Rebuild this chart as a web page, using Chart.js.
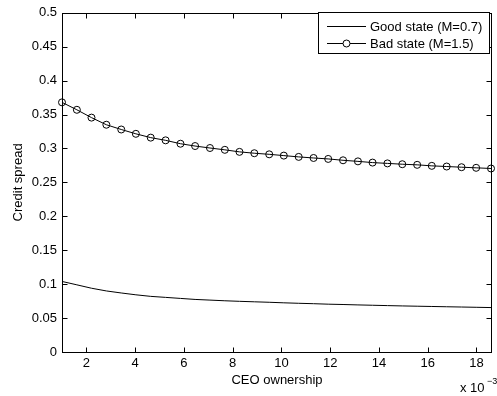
<!DOCTYPE html>
<html>
<head>
<meta charset="utf-8">
<script src="https://cdn.jsdelivr.net/npm/chart.js@4"></script>
<style>
  html, body { margin: 0; padding: 0; background: #fff; }
  #wrap { width: 497px; height: 396px; }
</style>
</head>
<body>
<div id="wrap"><canvas id="chart" width="497" height="396"></canvas></div>
<script>
// CEO ownership, in units of 10^-3
const ownership = [1.00, 1.61, 2.21, 2.82, 3.43, 4.03, 4.64, 5.25, 5.86, 6.46,
  7.07, 7.68, 8.28, 8.89, 9.50, 10.10, 10.71, 11.32, 11.92, 12.53,
  13.14, 13.74, 14.35, 14.96, 15.57, 16.17, 16.78, 17.39, 17.99, 18.60];

const goodState = [0.104, 0.099, 0.094, 0.090, 0.087, 0.0843, 0.082, 0.0805, 0.079, 0.0775,
  0.0765, 0.0755, 0.0747, 0.074, 0.0733, 0.0725, 0.0718, 0.0712, 0.0705, 0.0700,
  0.0694, 0.0689, 0.0684, 0.0679, 0.0675, 0.0671, 0.0667, 0.0663, 0.0659, 0.0655];

const badState = [0.368, 0.357, 0.3455, 0.335, 0.328, 0.3216, 0.316, 0.312, 0.307, 0.3036,
  0.3007, 0.298, 0.295, 0.293, 0.2914, 0.2895, 0.2876, 0.286, 0.2846, 0.2826,
  0.281, 0.2792, 0.278, 0.2768, 0.2759, 0.2744, 0.2734, 0.2724, 0.2715, 0.2705];

const xTicks = [2, 4, 6, 8, 10, 12, 14, 16, 18];
const yTicks = [0, 0.05, 0.1, 0.15, 0.2, 0.25, 0.3, 0.35, 0.4, 0.45, 0.5];

const seriesNames = ['Good state (M=0.7)', 'Bad state (M=1.5)'];
const xTitle = 'CEO ownership';
const yTitle = 'Credit spread';

const FONT = 'Liberation Sans, Arial, Helvetica, sans-serif';
const FS = 13;

const toPoints = ys => ownership.map((x, i) => ({ x: x, y: ys[i] }));

// MATLAB style box with inward ticks, legend and exponent label
const matlabFrame = {
  id: 'matlabFrame',
  afterDraw(chart) {
    const ctx = chart.ctx;
    const a = chart.chartArea;
    const xs = chart.scales.x, ys = chart.scales.y;
    const tl = 5;
    const L = Math.round(a.left) + 0.5, R = Math.round(a.right) - 0.5;
    const T = Math.round(a.top) + 0.5, B = Math.round(a.bottom) + 0.5;
    ctx.save();
    ctx.strokeStyle = '#000';
    ctx.lineWidth = 1;
    ctx.beginPath();
    xTicks.forEach(v => {
      const px = Math.round(xs.getPixelForValue(v)) + 0.5;
      ctx.moveTo(px, B); ctx.lineTo(px, B - tl);
      ctx.moveTo(px, T); ctx.lineTo(px, T + tl);
    });
    yTicks.forEach(v => {
      const py = Math.round(ys.getPixelForValue(v)) + 0.5;
      ctx.moveTo(L, py); ctx.lineTo(L + tl, py);
      ctx.moveTo(R, py); ctx.lineTo(R - tl, py);
    });
    ctx.stroke();
    ctx.strokeRect(L, T, R - L, B - T);

    // legend
    const lx = 318, ly = 12, lw = 171, lh = 41;
    ctx.fillStyle = '#fff';
    ctx.fillRect(lx, ly, lw, lh);
    ctx.strokeRect(lx + 0.5, ly + 0.5, lw, lh);
    ctx.font = FS + 'px ' + FONT;
    ctx.textBaseline = 'middle';
    ctx.textAlign = 'left';
    const rows = [26, 43];
    rows.forEach((ry, i) => {
      ctx.beginPath();
      ctx.moveTo(327, ry + 0.5); ctx.lineTo(366, ry + 0.5);
      ctx.stroke();
      if (i === 1) {
        ctx.fillStyle = '#fff';
        ctx.beginPath();
        ctx.arc(346.5, ry + 0.5, 3.5, 0, Math.PI * 2);
        ctx.fill();
        ctx.stroke();
      }
      ctx.fillStyle = '#000';
      ctx.fillText(seriesNames[i], 370, ry + 1);
    });

    // exponent label
    ctx.font = FS + 'px ' + FONT;
    ctx.textBaseline = 'alphabetic';
    ctx.fillText('x 10', 460, 392);
    ctx.font = '9px ' + FONT;
    ctx.fillText('\u22123', 487, 384);
    ctx.restore();
  }
};

new Chart(document.getElementById('chart'), {
  type: 'scatter',
  data: {
    datasets: [
      {
        label: seriesNames[0],
        data: toPoints(goodState),
        showLine: true,
        borderColor: '#000',
        borderWidth: 1,
        pointRadius: 0,
        tension: 0
      },
      {
        label: seriesNames[1],
        data: toPoints(badState),
        showLine: true,
        borderColor: '#000',
        borderWidth: 1,
        pointRadius: 3.5,
        pointBorderWidth: 1,
        pointBorderColor: '#000',
        pointBackgroundColor: 'rgba(0,0,0,0)',
        tension: 0
      }
    ]
  },
  options: {
    responsive: false,
    animation: false,
    clip: false,
    layout: { padding: { top: 10, right: 0, left: 0, bottom: 0 } },
    plugins: {
      legend: { display: false },
      tooltip: { enabled: false }
    },
    scales: {
      x: {
        type: 'linear',
        min: 1,
        max: 18.64,
        afterFit: s => { s.height = 44; },
        afterBuildTicks: s => { s.ticks = xTicks.map(v => ({ value: v })); },
        grid: { display: false, drawTicks: false },
        border: { display: false },
        ticks: {
          color: '#000',
          font: { family: FONT, size: FS },
          padding: 4,
          maxRotation: 0,
          autoSkip: false
        },
        title: {
          display: true,
          text: xTitle,
          color: '#000',
          font: { family: FONT, size: FS },
          padding: { top: 0, bottom: 8 }
        }
      },
      y: {
        type: 'linear',
        min: 0,
        max: 0.5,
        afterFit: s => { s.width = 62; },
        afterBuildTicks: s => { s.ticks = yTicks.map(v => ({ value: v })); },
        grid: { display: false, drawTicks: false },
        border: { display: false },
        ticks: {
          color: '#000',
          font: { family: FONT, size: FS },
          padding: 5,
          autoSkip: false,
          callback: v => String(Math.round(v * 100) / 100)
        },
        title: {
          display: true,
          text: yTitle,
          color: '#000',
          font: { family: FONT, size: FS },
          padding: { top: 11, bottom: 0 }
        }
      }
    }
  },
  plugins: [matlabFrame]
});
</script>
</body>
</html>
